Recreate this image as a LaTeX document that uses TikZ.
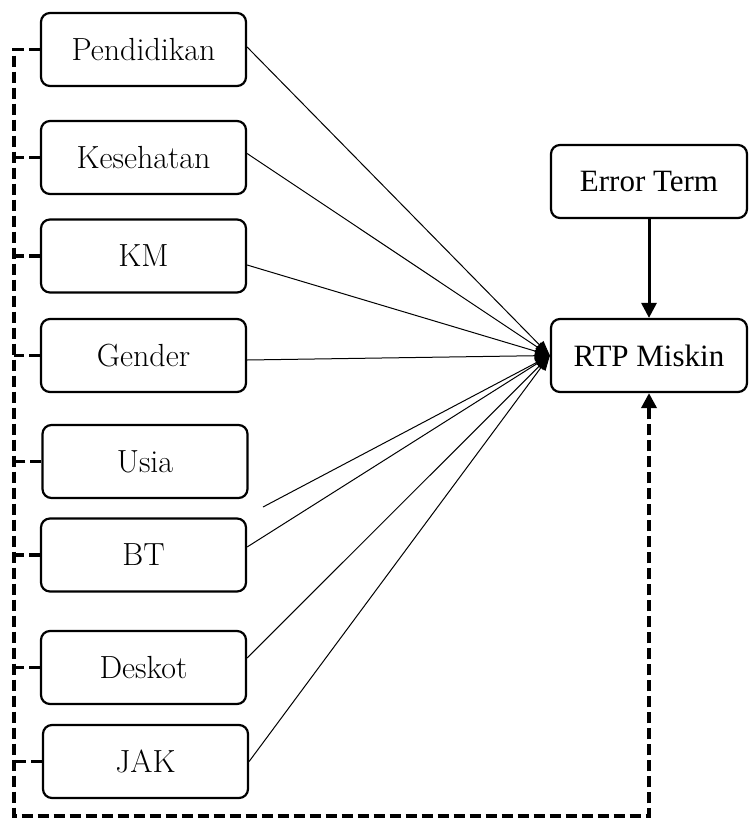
\documentclass[tikz,border=0pt]{standalone}
\usepackage{fontspec}
\newfontfamily\timesfont{Liberation Serif}
\usetikzlibrary{arrows.meta, positioning}
\tikzset{
	varbox/.style={draw, rounded corners=9pt, line width=2.2pt, minimum width=205pt,
		minimum height=73pt, inner sep=0pt, font=\fontsize{32}{38}\selectfont}
}
\tikzset{
	outbox/.style={varbox, minimum width=196pt, font=\fontsize{31}{36}\selectfont\timesfont}
}
\tikzset{
	effect/.style={line width=1pt, -{Triangle[length=15pt,width=11pt]}},
	feedback/.style={line width=3.6pt, dash pattern=on 11pt off 5pt}
}

\begin{document}
\begin{tikzpicture}[x=1pt, y=-1pt]
      \useasboundingbox (0,0) rectangle (749,819);

      % explanatory variables
      \node[varbox] (pend) at (143.5,49.5) {Pendidikan};
      \node[varbox] (kes) at (143.5,157.5) {Kesehatan};
      \node[varbox] (km) at (143.5,256) {KM};
      \node[varbox] (gen) at (143.5,355.5) {Gender};
      \node[varbox] (usia) at (145,461.5) {Usia};
      \node[varbox] (bt) at (143.5,555) {BT};
      \node[varbox] (desk) at (143.5,667.5) {Deskot};
      \node[varbox] (jak) at (145.5,761.5) {JAK};

      % outcome and error
      \node[outbox] (err) at (649,181.5) {Error Term};
      \node[outbox] (rtp) at (649,355.5) {RTP Miskin};

      \coordinate (usiaend) at (263,507);
      \coordinate (bl) at (14,816);

      % direct effects (start a bit off the middle of each box side)
      \foreach \v/\dy in {pend/2.5,kes/4,km/-9,gen/-4.5,bt/8,desk/9.5,jak/0} {
        \draw[effect] ([yshift=\dy pt]\v.east) -- (rtp.west);
      }
      \draw[effect] (usiaend) -- (rtp.west);

      \draw[line width=3pt, -{Triangle[length=15pt,width=15pt]}] (err) -- (rtp);

      % dashed feedback loop
      \draw[feedback, -{Triangle[length=15pt,width=15pt]}] (pend.west) -| (bl) -| (rtp.south);
      \foreach \v in {kes,km,gen,usia,bt,desk,jak} {
        \draw[feedback] (\v.west) -- (\v.west -| bl);
      }
    \end{tikzpicture}
\end{document}
